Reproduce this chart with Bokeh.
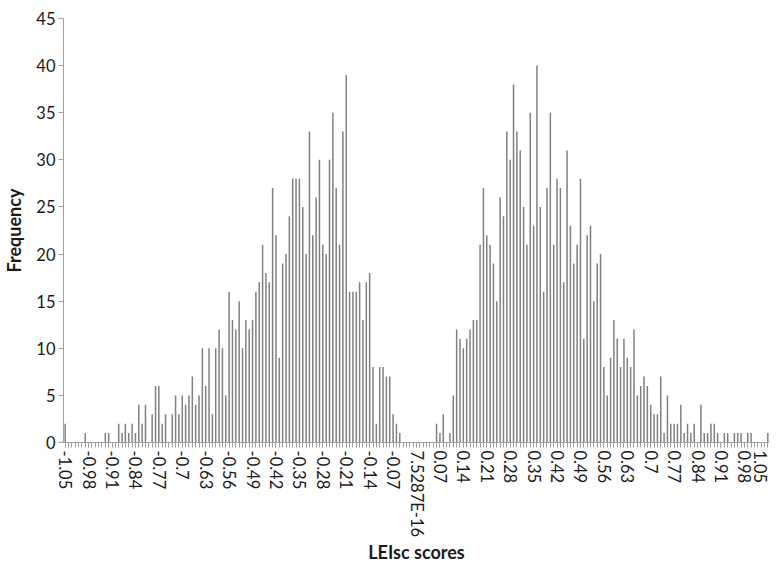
from bokeh.plotting import figure
from bokeh.models import Range1d, SingleIntervalTicker, FixedTicker, CustomJSTickFormatter
from bokeh.embed import file_html
from bokeh.resources import INLINE

# bin centres of the histogram, step 0.01 from -1.05 to 1.05
bins = [round((i - 105) / 100, 2) for i in range(211)]

frequency = [
    2, 0, 0, 0, 0, 0, 1, 0, 0, 0,
    0, 0, 1, 1, 0, 0, 2, 1, 2, 1,
    2, 1, 4, 2, 4, 0, 3, 6, 6, 2,
    3, 0, 3, 5, 3, 5, 4, 5, 7, 4,
    5, 10, 6, 10, 3, 10, 12, 10, 5, 16,
    13, 12, 15, 10, 13, 12, 13, 16, 17, 21,
    18, 17, 27, 22, 9, 19, 20, 24, 28, 28,
    28, 25, 20, 33, 22, 26, 30, 21, 20, 30,
    35, 27, 21, 33, 39, 16, 16, 16, 17, 13,
    17, 18, 8, 2, 8, 8, 7, 7, 3, 2,
    1, 0, 0, 0, 0, 0, 0, 0, 0, 0,
    0, 2, 1, 3, 0, 1, 5, 12, 11, 10,
    11, 12, 13, 13, 21, 27, 22, 21, 19, 15,
    26, 24, 33, 30, 38, 33, 31, 25, 21, 35,
    23, 40, 25, 16, 27, 35, 21, 28, 27, 17,
    31, 23, 19, 21, 28, 11, 22, 23, 15, 19,
    20, 8, 5, 9, 13, 11, 8, 11, 9, 8,
    12, 5, 6, 7, 6, 4, 3, 3, 7, 1,
    5, 2, 2, 2, 4, 1, 2, 1, 2, 0,
    4, 1, 1, 2, 2, 1, 0, 1, 1, 0,
    1, 1, 1, 0, 1, 1, 0, 0, 0, 0,
    1,
]

# labels shown under every 7th bin
tick_labels = [
    "-1.05", "-0.98", "-0.91", "-0.84", "-0.77", "-0.7", "-0.63", "-0.56",
    "-0.49", "-0.42", "-0.35", "-0.28", "-0.21", "-0.14", "-0.07", "7.5287E-16",
    "0.07", "0.14", "0.21", "0.28", "0.35", "0.42", "0.49", "0.56",
    "0.63", "0.7", "0.77", "0.84", "0.91", "0.98", "1.05",
]
label_every = 7
label_pos = bins[::label_every]

FONT = "Lato"
TEXT = "#1a1a1a"
AXIS = "#a0a0a0"

p = figure(
    x_range=Range1d(-1.055, 1.055),
    y_range=Range1d(0, 45),
    frame_width=706, frame_height=424,
    min_border_left=59, min_border_right=0,
    min_border_top=18, min_border_bottom=108,
    output_backend="svg", toolbar_location=None,
)

p.vbar(x=bins, top=frequency, width=0.0045, fill_color="#808080", line_color=None)

xa = p.xaxis[0]
xa.ticker = FixedTicker(ticks=label_pos, minor_ticks=bins)
xa.formatter = CustomJSTickFormatter(
    args=dict(pos=label_pos, labels=tick_labels),
    code="""
        let best = 0;
        for (let k = 1; k < pos.length; k++) {
            if (Math.abs(pos[k] - tick) < Math.abs(pos[best] - tick)) best = k;
        }
        return labels[best];
    """,
)
xa.major_label_orientation = "vertical"
xa.axis_label = "LEIsc scores"
xa.major_label_standoff = 3
xa.axis_label_standoff = 1
xa.minor_tick_line_color = AXIS
xa.minor_tick_out = 5
xa.minor_tick_in = 0

ya = p.yaxis[0]
ya.ticker = SingleIntervalTicker(interval=5)
ya.axis_label = "Frequency"
ya.minor_tick_line_color = None
ya.major_label_standoff = 3
ya.axis_label_standoff = 8

for ax in (xa, ya):
    ax.axis_line_color = AXIS
    ax.major_tick_line_color = AXIS
    ax.major_tick_out = 5
    ax.major_tick_in = 0
    ax.major_label_text_font = FONT
    ax.major_label_text_font_size = "16.5px"
    ax.major_label_text_color = TEXT
    ax.axis_label_text_font = FONT
    ax.axis_label_text_font_size = "18px"
    ax.axis_label_text_font_style = "bold"
    ax.axis_label_text_color = TEXT

p.xgrid.grid_line_color = None
p.ygrid.grid_line_color = None
p.outline_line_color = None

open("out.html", "w").write(file_html(p, INLINE))
